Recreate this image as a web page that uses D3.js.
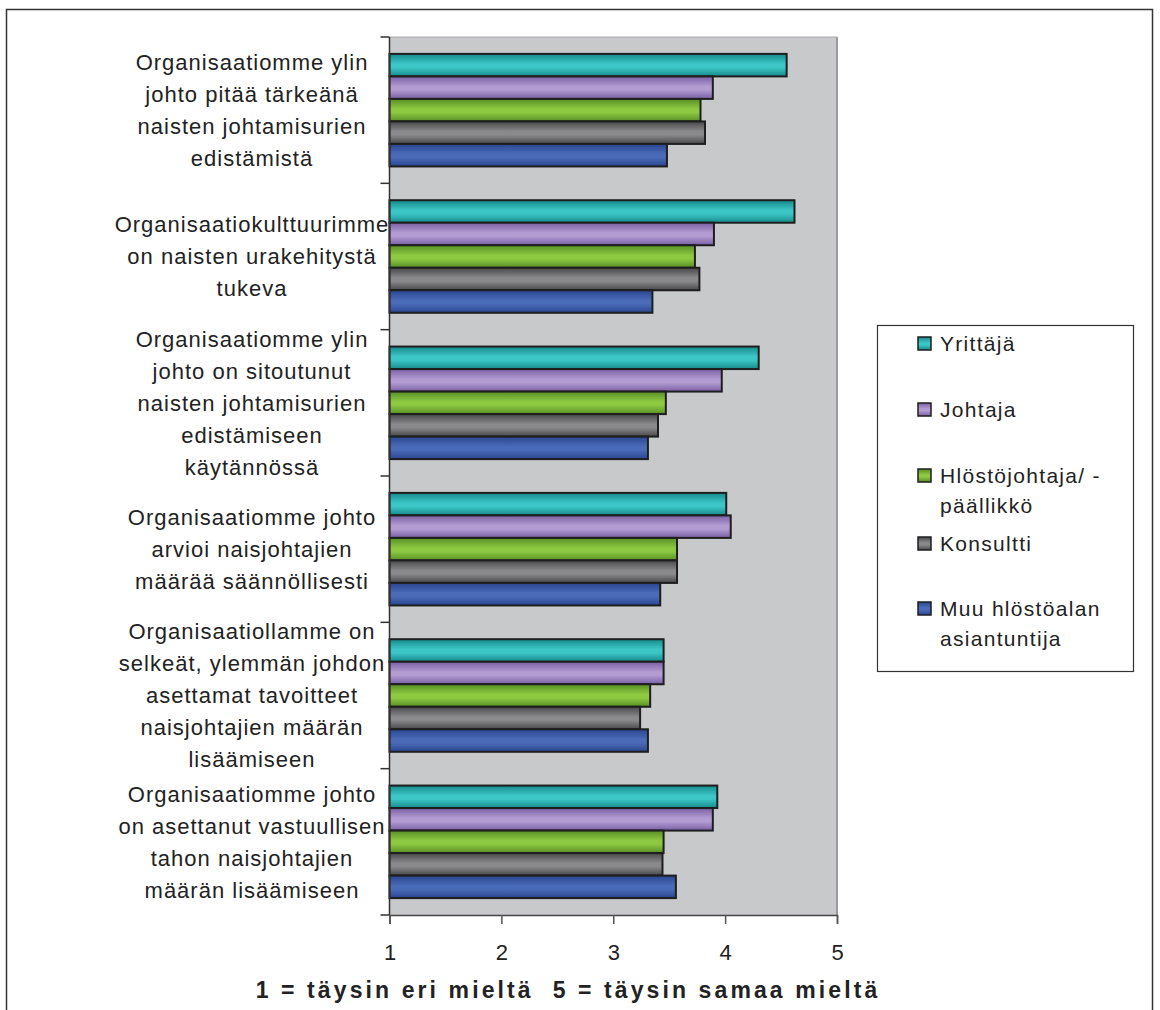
<!DOCTYPE html>
<html>
<head>
<meta charset="utf-8">
<script src="https://cdn.jsdelivr.net/npm/d3@7"></script>
<style>
  html, body { margin: 0; padding: 0; background: #fff; }
  svg { display: block; font-family: "Liberation Sans", Arial, sans-serif; }
  .keep-spaces { white-space: pre; }
</style>
</head>
<body>
<svg id="chart" width="1160" height="1010"></svg>
<script>
// Survey statements (line breaks mark how each label wraps)
const categories = [
  "Organisaatiomme ylin\njohto pitää tärkeänä\nnaisten johtamisurien\nedistämistä",
  "Organisaatiokulttuurimme\non naisten urakehitystä\ntukeva",
  "Organisaatiomme ylin\njohto on sitoutunut\nnaisten johtamisurien\nedistämiseen\nkäytännössä",
  "Organisaatiomme johto\narvioi naisjohtajien\nmäärää säännöllisesti",
  "Organisaatiollamme on\nselkeät, ylemmän johdon\nasettamat tavoitteet\nnaisjohtajien määrän\nlisäämiseen",
  "Organisaatiomme johto\non asettanut vastuullisen\ntahon naisjohtajien\nmäärän lisäämiseen"
];

// Respondent groups (legend labels; "\n" = wrap)
const series = ["Yrittäjä", "Johtaja", "Hlöstöjohtaja/ -\npäällikkö", "Konsultti", "Muu hlöstöalan\nasiantuntija"];

// Mean agreement per group, one value per statement (1–5 scale)
const yrittaja   = [4.55, 4.62, 4.30, 4.01, 3.45, 3.93];
const johtaja    = [3.89, 3.90, 3.97, 4.05, 3.45, 3.89];
const hlosto     = [3.78, 3.73, 3.47, 3.57, 3.33, 3.45];
const konsultti  = [3.82, 3.77, 3.40, 3.57, 3.24, 3.44];
const muu        = [3.48, 3.35, 3.31, 3.42, 3.31, 3.56];
const seriesValues = [yrittaja, johtaja, hlosto, konsultti, muu];

const xTicks = [1, 2, 3, 4, 5];
const axisTitle = "1 = täysin eri mieltä  5 = täysin samaa mieltä";

// Bar colours: [edge, centre] for the cylindrical shading
const palette = [
  ["#168a8b", "#3cc6c6"],
  ["#7a5fa3", "#b29cd2"],
  ["#578f25", "#8ec942"],
  ["#48484a", "#8a8a8c"],
  ["#2a4590", "#4a6bb8"]
];

const svg = d3.select("#chart");

// Outer chart frame
svg.append("rect")
  .attr("x", 6.5).attr("y", 9.5)
  .attr("width", 1146).attr("height", 1020)
  .attr("fill", "none").attr("stroke", "#333").attr("stroke-width", 1.5);

// Gradients
const defs = svg.append("defs");
palette.forEach((c, i) => {
  const g = defs.append("linearGradient")
    .attr("id", "grad" + i)
    .attr("x1", 0).attr("y1", 0).attr("x2", 0).attr("y2", 1);
  g.append("stop").attr("offset", "0%").attr("stop-color", c[0]);
  g.append("stop").attr("offset", "45%").attr("stop-color", c[1]);
  g.append("stop").attr("offset", "60%").attr("stop-color", c[1]);
  g.append("stop").attr("offset", "100%").attr("stop-color", c[0]);
});

const plot = { left: 389.5, right: 837, top: 37, bottom: 915 };

const x = d3.scaleLinear().domain([1, 5]).range([plot.left, plot.right]);
const y = d3.scaleBand().domain(categories).range([plot.top, plot.bottom]).padding(0);
const ySub = d3.scaleBand().domain(d3.range(series.length))
  .range([0, y.bandwidth()]).paddingInner(0).paddingOuter(0.75);

// Plot background
svg.append("rect")
  .attr("x", plot.left).attr("y", plot.top)
  .attr("width", plot.right - plot.left).attr("height", plot.bottom - plot.top)
  .attr("fill", "#c8c9cb");
svg.append("line")
  .attr("x1", plot.left).attr("x2", plot.right)
  .attr("y1", plot.top).attr("y2", plot.top)
  .attr("stroke", "#a9a9ab").attr("stroke-width", 1);
svg.append("line")
  .attr("x1", plot.right).attr("x2", plot.right)
  .attr("y1", plot.top).attr("y2", plot.bottom)
  .attr("stroke", "#9a9a9c").attr("stroke-width", 2);

// Bars
const rows = categories.map((c, ci) => ({ c, vals: seriesValues.map(s => s[ci]) }));
const groups = svg.append("g").selectAll("g.cat")
  .data(rows).join("g")
  .attr("transform", d => `translate(0,${y(d.c)})`);
groups.selectAll("rect")
  .data(d => d.vals.map((v, i) => ({ v, i })))
  .join("rect")
  .attr("x", x(1))
  .attr("y", d => ySub(d.i))
  .attr("width", d => x(d.v) - x(1))
  .attr("height", ySub.bandwidth())
  .attr("fill", d => `url(#grad${d.i})`)
  .attr("stroke", "#1e1e1e")
  .attr("stroke-width", 2);

// X axis
const xAxis = svg.append("g")
  .attr("transform", `translate(0,${plot.bottom})`)
  .call(d3.axisBottom(x).tickValues(xTicks).tickSize(9).tickPadding(20).tickFormat(d3.format("d")));
xAxis.select(".domain").attr("stroke", "#444").attr("stroke-width", 1.5);
xAxis.selectAll(".tick line").attr("stroke", "#555").attr("stroke-width", 1.5);
xAxis.selectAll(".tick text")
  .attr("font-size", 22).attr("fill", "#222")
  .attr("font-family", "Liberation Sans, Arial, sans-serif");

// Y axis: line with ticks at category boundaries
const yAxis = svg.append("g").attr("transform", `translate(${plot.left},0)`);
yAxis.append("line")
  .attr("x1", 0).attr("x2", 0).attr("y1", plot.top).attr("y2", plot.bottom)
  .attr("stroke", "#333").attr("stroke-width", 1.5);
const boundaries = categories.map(c => y(c)).concat([plot.bottom]);
yAxis.selectAll("line.tick")
  .data(boundaries).join("line")
  .attr("class", "tick")
  .attr("x1", -9).attr("x2", 0)
  .attr("y1", d => d).attr("y2", d => d)
  .attr("stroke", "#333").attr("stroke-width", 1.5);

// Category labels
const lineH = 32;
svg.append("g").selectAll("text")
  .data(categories).join("text")
  .attr("text-anchor", "middle")
  .attr("font-size", 22)
  .attr("letter-spacing", 1.0)
  .attr("fill", "#222")
  .each(function (d) {
    const lines = d.split("\n");
    const cy = y(d) + y.bandwidth() / 2;
    const y0 = cy - (lines.length - 1) * lineH / 2;
    d3.select(this).selectAll("tspan")
      .data(lines).join("tspan")
      .attr("x", 252)
      .attr("y", (l, i) => y0 + i * lineH)
      .attr("dy", "0.35em")
      .text(l => l);
  });

// Axis title
svg.append("text")
  .attr("class", "keep-spaces")
  .attr("x", 568).attr("y", 990)
  .attr("dy", "0.35em")
  .attr("text-anchor", "middle")
  .attr("font-size", 23)
  .attr("font-weight", "bold")
  .attr("letter-spacing", 3.1)
  .attr("fill", "#222")
  .text(axisTitle);

// Legend
const legend = svg.append("g");
legend.append("rect")
  .attr("x", 877.5).attr("y", 325.5)
  .attr("width", 256).attr("height", 346)
  .attr("fill", "#fff").attr("stroke", "#333").attr("stroke-width", 1.2);
const legendY = [344, 410, 476, 544, 609];
const items = legend.selectAll("g.item")
  .data(series).join("g")
  .attr("transform", (d, i) => `translate(918,${legendY[i]})`);
items.append("rect")
  .attr("x", 0).attr("y", -7).attr("width", 13).attr("height", 13)
  .attr("fill", (d, i) => `url(#grad${i})`)
  .attr("stroke", "#1e1e1e").attr("stroke-width", 1.5);
items.append("text")
  .attr("font-size", 21)
  .attr("letter-spacing", 1.3)
  .attr("fill", "#222")
  .each(function (d) {
    d3.select(this).selectAll("tspan")
      .data(d.split("\n")).join("tspan")
      .attr("x", 22)
      .attr("y", (l, i) => i * 30)
      .attr("dy", "0.35em")
      .text(l => l);
  });
</script>
</body>
</html>
